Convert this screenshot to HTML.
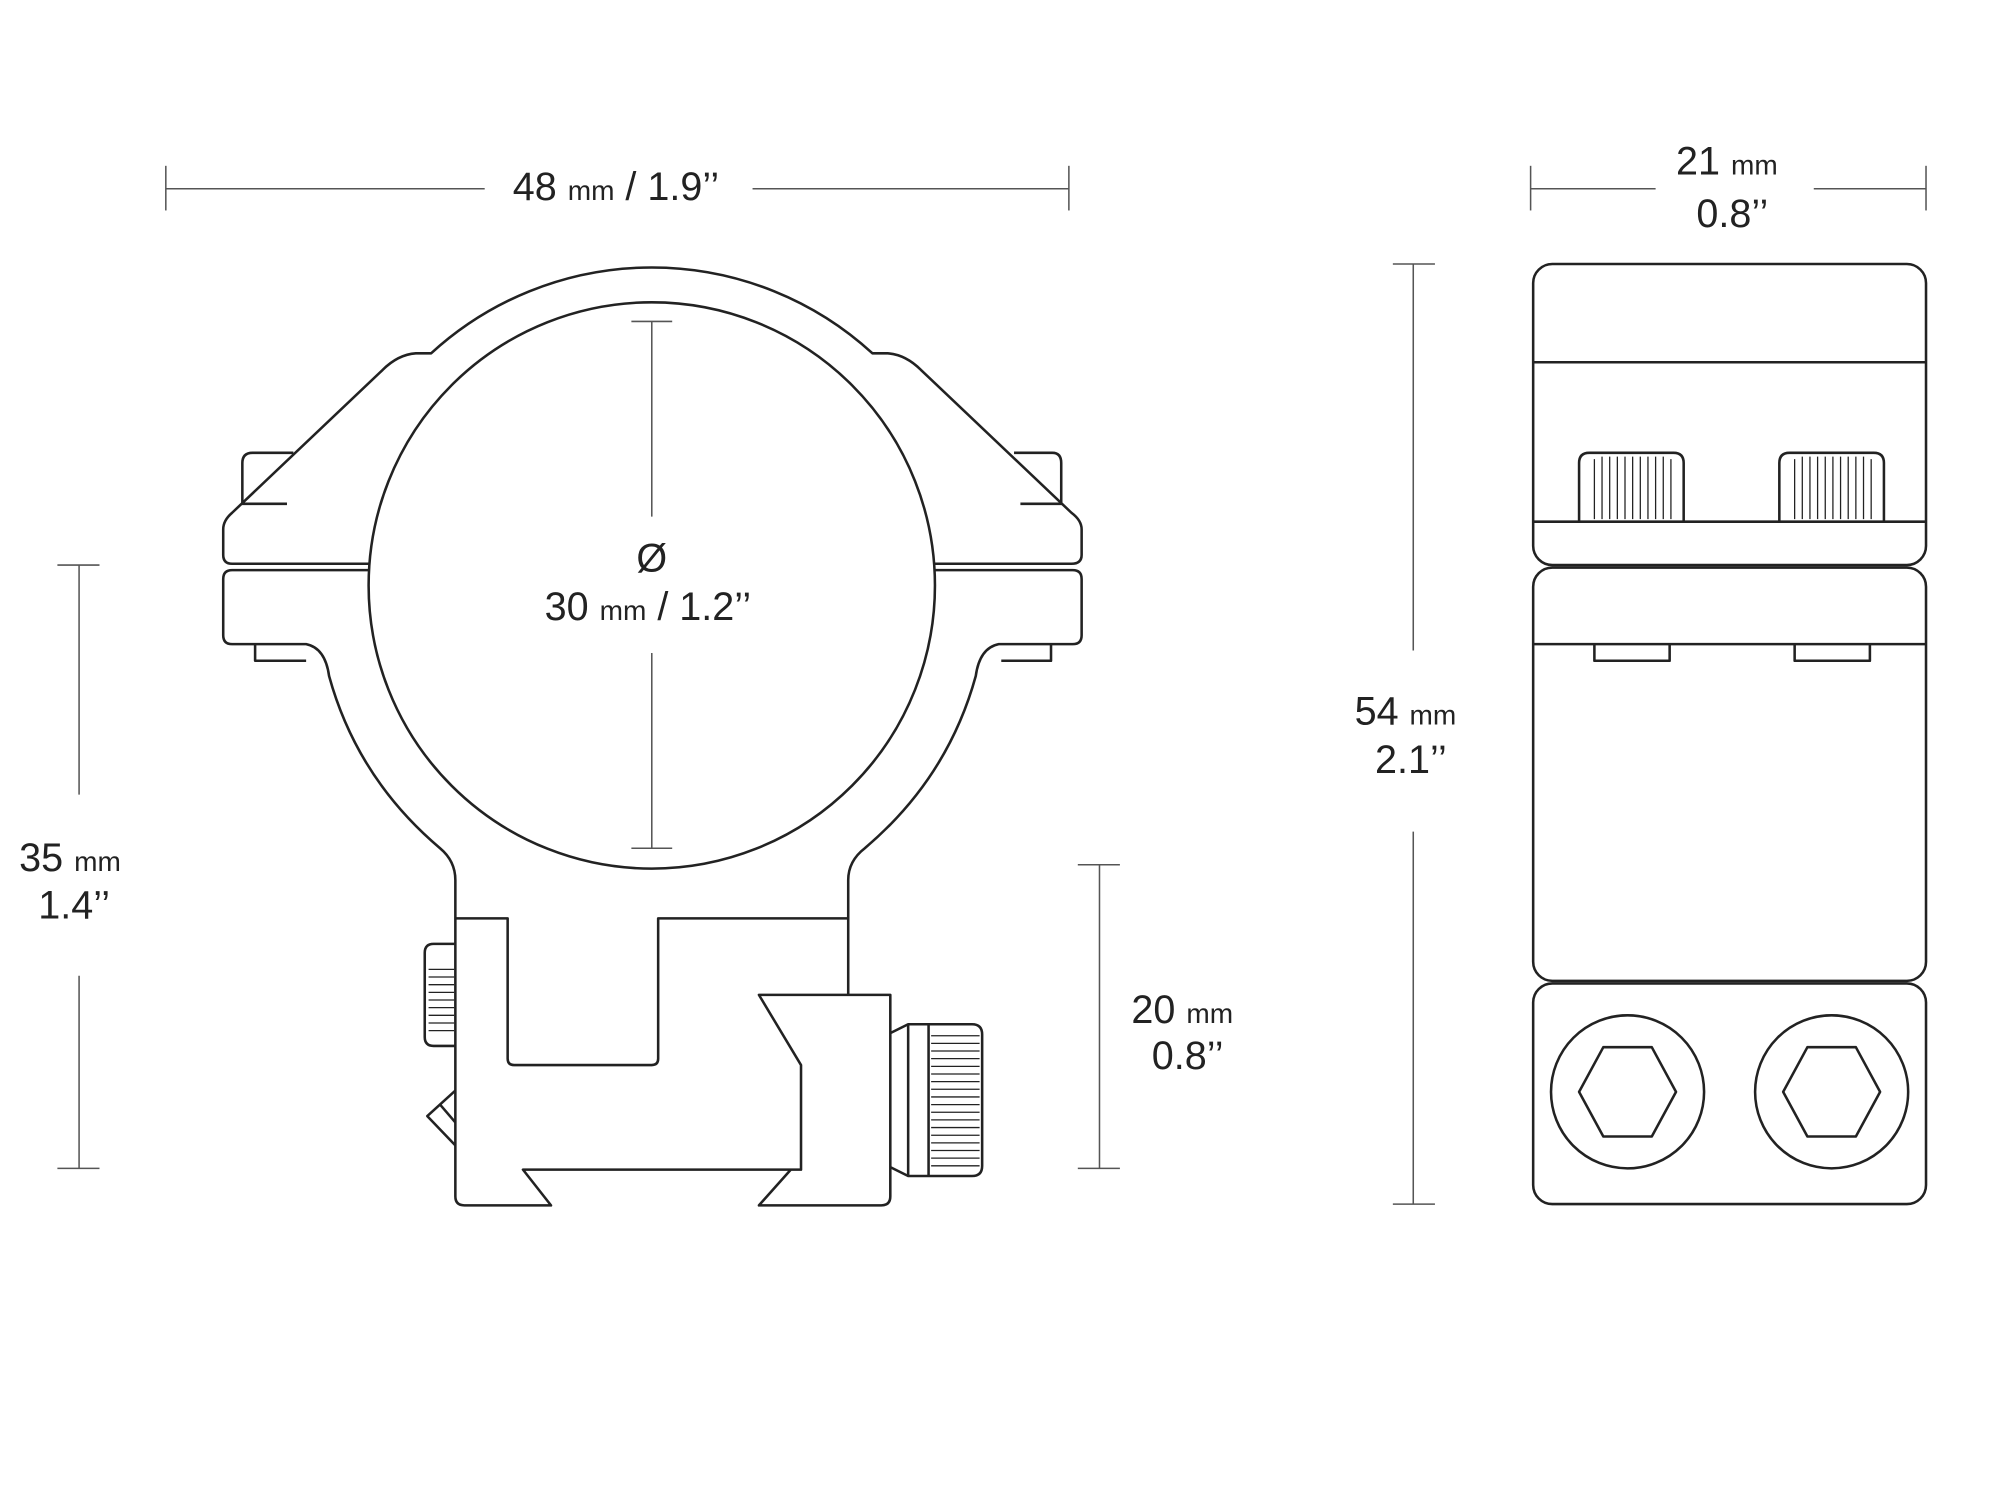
<!DOCTYPE html>
<html><head><meta charset="utf-8"><style>
html,body{margin:0;padding:0;background:#fff;}
svg{display:block;}
text{font-family:"Liberation Sans",sans-serif;fill:#222;}
.n{font-size:31px;}
.m{font-size:22px;}
</style></head><body>
<svg width="2000" height="1500" viewBox="0 0 1568 1176" xmlns="http://www.w3.org/2000/svg">
<g fill="none" stroke="#222" stroke-width="2" stroke-linejoin="round">
<g stroke="#555" stroke-width="1.2">
<line x1="130" y1="148" x2="380" y2="148"/><line x1="590" y1="148" x2="838" y2="148"/>
<line x1="130" y1="130" x2="130" y2="165"/><line x1="838" y1="130" x2="838" y2="165"/>
<line x1="511" y1="252" x2="511" y2="405"/><line x1="511" y1="512" x2="511" y2="665"/>
<line x1="495" y1="252" x2="527" y2="252"/><line x1="495" y1="665" x2="527" y2="665"/>
<line x1="62" y1="443" x2="62" y2="623"/><line x1="62" y1="765" x2="62" y2="916"/>
<line x1="45" y1="443" x2="78" y2="443"/><line x1="45" y1="916" x2="78" y2="916"/>
<line x1="862" y1="678" x2="862" y2="916"/>
<line x1="845" y1="678" x2="878" y2="678"/><line x1="845" y1="916" x2="878" y2="916"/>
<line x1="1200" y1="148" x2="1298" y2="148"/><line x1="1422" y1="148" x2="1510" y2="148"/>
<line x1="1200" y1="130" x2="1200" y2="165"/><line x1="1510" y1="130" x2="1510" y2="165"/>
<line x1="1108" y1="207" x2="1108" y2="510"/><line x1="1108" y1="652" x2="1108" y2="944"/>
<line x1="1092" y1="207" x2="1125" y2="207"/><line x1="1092" y1="944" x2="1125" y2="944"/>
</g>
<path d="M230 355 H198 Q190 355 190 363 V395 H225"/>
<path d="M795 355 H825 Q832 355 832 363 V395 H800"/>
<path d="M200 505 V518 H240"/><path d="M824 505 V518 H785"/>
<circle cx="511" cy="459" r="222"/>
<path d="M289 442 H182 Q175 442 175 435 V415 Q175 408 182 402 L300 290 Q312 278 326 277 H338 A256 256 0 0 1 684 277 H696 Q710 278 722 290 L840 402 Q848 408 848 415 V435 Q848 442 840 442 H733"/>
<path d="M289 447 H182 Q175 447 175 454 V498 Q175 505 182 505 H240 Q255 508 258 530 Q280 610 345 665 Q357 675 357 690 V938 Q357 945 364 945 H432 L410 917 H628 V835 L595 780 H698 V938 Q698 945 691 945 H595 L620 917"/>
<path d="M733 447 H841 Q848 447 848 454 V498 Q848 505 841 505 H783 Q768 508 765 530 Q743 610 678 665 Q665 675 665 690 V780"/>
<path d="M357 720 H398 V830 Q398 835 403 835 H511 Q516 835 516 830 V720 H665"/>
<path d="M357 740 H340 Q333 740 333 747 V813 Q333 820 340 820 H357"/>
<g stroke-width="1"><path d="M336 760 H356 M336 766 H356 M336 772 H356 M336 778 H356 M336 784 H356 M336 790 H356 M336 796 H356 M336 802 H356 M336 808 H356"/></g>
<path d="M357 855 L335 875 L357 898"/><path d="M345 866 L357 880"/>
<path d="M698 810 L712 803 H762 Q770 803 770 811 V914 Q770 922 762 922 H712 L698 915"/>
<path d="M712 803 V922 M728 803 V922"/>
<g stroke-width="1"><path d="M730 812 H768 M730 818 H768 M730 824 H768 M730 830 H768 M730 836 H768 M730 842 H768 M730 848 H768 M730 854 H768 M730 860 H768 M730 866 H768 M730 872 H768 M730 878 H768 M730 884 H768 M730 890 H768 M730 896 H768 M730 902 H768 M730 908 H768 M730 914 H768"/></g>
<rect x="1202" y="207" width="308" height="236" rx="15"/>
<line x1="1202" y1="284" x2="1510" y2="284"/><line x1="1202" y1="409" x2="1510" y2="409"/>
<path d="M1238 409 V363 Q1238 355 1246 355 H1312 Q1320 355 1320 363 V409"/>
<path d="M1395 409 V363 Q1395 355 1403 355 H1469 Q1477 355 1477 363 V409"/>
<g stroke-width="1">
<path d="M1250 360V407M1256 358V407M1262 358V407M1268 358V407M1274 358V407M1280 358V407M1286 358V407M1292 358V407M1298 358V407M1304 358V407M1310 360V407"/>
<path d="M1407 360V407M1413 358V407M1419 358V407M1425 358V407M1431 358V407M1437 358V407M1443 358V407M1449 358V407M1455 358V407M1461 358V407M1467 360V407"/>
</g>
<rect x="1202" y="445" width="308" height="324" rx="15"/>
<line x1="1202" y1="505" x2="1510" y2="505"/>
<path d="M1250 505 V518 H1309 V505 M1407 505 V518 H1466 V505"/>
<rect x="1202" y="771" width="308" height="173" rx="15"/>
<circle cx="1276" cy="856" r="60"/><circle cx="1436" cy="856" r="60"/>
<polygon points="1238,856 1257,821 1295,821 1314,856 1295,891 1257,891"/>
<polygon points="1398,856 1417,821 1455,821 1474,856 1455,891 1417,891"/>
</g>
<text x="402" y="157" class="n">48 <tspan class="m">mm</tspan> / 1.9’’</text>
<text x="511" y="448" class="n" text-anchor="middle">Ø</text>
<text x="427" y="486" class="n">30 <tspan class="m">mm</tspan> / 1.2’’</text>
<text x="15" y="683" class="n">35 <tspan class="m">mm</tspan></text>
<text x="30" y="720" class="n">1.4’’</text>
<text x="887" y="802" class="n">20 <tspan class="m">mm</tspan></text>
<text x="903" y="838" class="n">0.8’’</text>
<text x="1314" y="137" class="n">21 <tspan class="m">mm</tspan></text>
<text x="1330" y="178" class="n">0.8’’</text>
<text x="1062" y="568" class="n">54 <tspan class="m">mm</tspan></text>
<text x="1078" y="606" class="n">2.1’’</text>
</svg>
</body></html>
